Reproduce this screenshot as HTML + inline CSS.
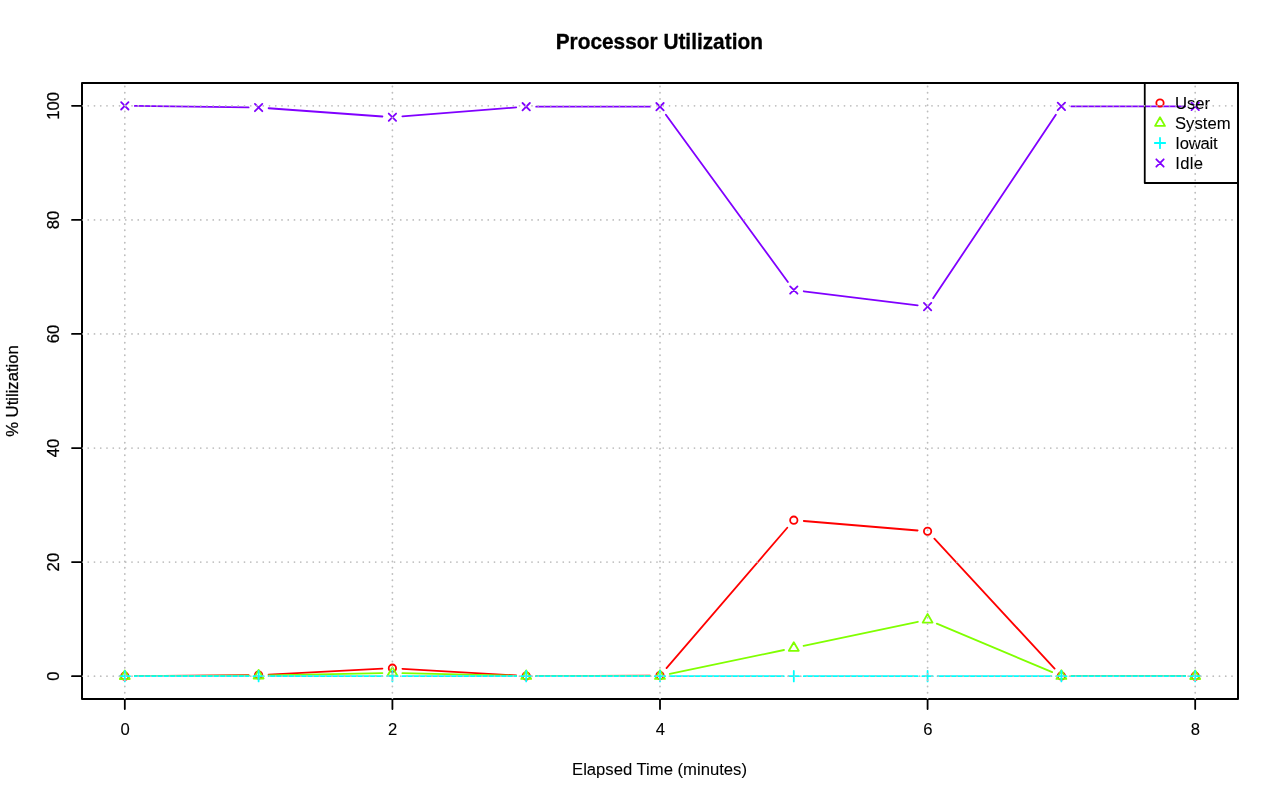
<!DOCTYPE html>
<html lang="en"><head><meta charset="utf-8"><title>Processor Utilization</title>
<style>
html,body{margin:0;padding:0;background:#fff;}
body{width:1280px;height:801px;overflow:hidden;}
svg{display:block;}
text{font-family:"Liberation Sans",Arial,Helvetica,sans-serif;font-size:16.67px;fill:#000;stroke:#000;stroke-width:0.08px;stroke-linejoin:round;}
.r{stroke-width:0.25px;}
.t{font-weight:bold;font-size:20.83px;stroke-width:0.3px;}
</style></head><body>
<svg width="1280" height="801" viewBox="0 0 1280 801">
<rect width="1280" height="801" fill="#fff"/>
<text class="t" transform="translate(659.3 49.05) scale(1 1.055)" text-anchor="middle">Processor Utilization</text>
<text x="659.5" y="775" text-anchor="middle">Elapsed Time (minutes)</text>
<text class="r" transform="translate(18 391) rotate(-90)" text-anchor="middle">% Utilization</text>
<g fill="none" stroke="#000" stroke-width="1.8" stroke-linecap="round">
<path d="M124.81 699H1195.19M124.81 699v10M392.41 699v10M660 699v10M927.59 699v10M1195.19 699v10M82 676.19V105.81M82 676.19h-10M82 562.11h-10M82 448.04h-10M82 333.96h-10M82 219.89h-10M82 105.81h-10"/>
</g>
<text x="125.11" y="735" text-anchor="middle">0</text>
<text x="392.71" y="735" text-anchor="middle">2</text>
<text x="660.3" y="735" text-anchor="middle">4</text>
<text x="927.89" y="735" text-anchor="middle">6</text>
<text x="1195.49" y="735" text-anchor="middle">8</text>
<text class="r" transform="translate(58.6 676.19) rotate(-90)" text-anchor="middle">0</text>
<text class="r" transform="translate(58.6 562.11) rotate(-90)" text-anchor="middle">20</text>
<text class="r" transform="translate(58.6 448.04) rotate(-90)" text-anchor="middle">40</text>
<text class="r" transform="translate(58.6 333.96) rotate(-90)" text-anchor="middle">60</text>
<text class="r" transform="translate(58.6 219.89) rotate(-90)" text-anchor="middle">80</text>
<text class="r" transform="translate(58.6 105.81) rotate(-90)" text-anchor="middle">100</text>
<rect x="82" y="83" width="1156" height="616" fill="none" stroke="#000" stroke-width="2.0" stroke-linejoin="round"/>
<clipPath id="c"><rect x="82" y="83" width="1156" height="616"/></clipPath>
<g clip-path="url(#c)">
<path d="M134.81 676.1L248.61 675.13M268.6 674.53L382.42 668.71M402.39 668.79L516.22 675.48M536.2 676.04L650 675.65M666.52 668.04L787.27 527.77M803.76 521.02L917.63 530.48M934.38 538.65L1054.6 668.67M1071.39 676.03L1185.19 676.17" fill="none" stroke="#ff0000" stroke-width="1.8" stroke-linecap="round"/>
<circle cx="124.81" cy="676.19" r="3.68" fill="none" stroke="#ff0000" stroke-width="1.8"/>
<circle cx="258.61" cy="675.04" r="3.68" fill="none" stroke="#ff0000" stroke-width="1.8"/>
<circle cx="392.41" cy="668.2" r="3.68" fill="none" stroke="#ff0000" stroke-width="1.8"/>
<circle cx="526.2" cy="676.07" r="3.68" fill="none" stroke="#ff0000" stroke-width="1.8"/>
<circle cx="660" cy="675.61" r="3.68" fill="none" stroke="#ff0000" stroke-width="1.8"/>
<circle cx="793.8" cy="520.19" r="3.68" fill="none" stroke="#ff0000" stroke-width="1.8"/>
<circle cx="927.59" cy="531.31" r="3.68" fill="none" stroke="#ff0000" stroke-width="1.8"/>
<circle cx="1061.39" cy="676.01" r="3.68" fill="none" stroke="#ff0000" stroke-width="1.8"/>
<circle cx="1195.19" cy="676.19" r="3.68" fill="none" stroke="#ff0000" stroke-width="1.8"/>
<path d="M134.81 676.14L248.61 675.66M268.61 675.41L382.41 673.08M402.4 673.12L516.21 675.83M536.2 676.07L650 676.02M669.79 673.96L784.01 650M803.58 645.89L917.81 621.78M936.81 623.6L1052.17 672.14M1071.39 676.03L1185.19 676.17" fill="none" stroke="#80ff00" stroke-width="1.8" stroke-linecap="round"/>
<path d="M124.81 670.46L129.77 679.05L119.86 679.05Z" fill="none" stroke="#80ff00" stroke-width="1.8" stroke-linejoin="round"/>
<path d="M258.61 669.89L263.57 678.48L253.65 678.48Z" fill="none" stroke="#80ff00" stroke-width="1.8" stroke-linejoin="round"/>
<path d="M392.41 667.15L397.36 675.74L387.45 675.74Z" fill="none" stroke="#80ff00" stroke-width="1.8" stroke-linejoin="round"/>
<path d="M526.2 670.35L531.16 678.93L521.25 678.93Z" fill="none" stroke="#80ff00" stroke-width="1.8" stroke-linejoin="round"/>
<path d="M660 670.29L664.96 678.88L655.04 678.88Z" fill="none" stroke="#80ff00" stroke-width="1.8" stroke-linejoin="round"/>
<path d="M793.8 642.23L798.75 650.81L788.84 650.81Z" fill="none" stroke="#80ff00" stroke-width="1.8" stroke-linejoin="round"/>
<path d="M927.59 614L932.55 622.58L922.64 622.58Z" fill="none" stroke="#80ff00" stroke-width="1.8" stroke-linejoin="round"/>
<path d="M1061.39 670.29L1066.35 678.88L1056.43 678.88Z" fill="none" stroke="#80ff00" stroke-width="1.8" stroke-linejoin="round"/>
<path d="M1195.19 670.46L1200.14 679.05L1190.23 679.05Z" fill="none" stroke="#80ff00" stroke-width="1.8" stroke-linejoin="round"/>
<path d="M134.81 676.19L248.61 676.19M268.61 676.19L382.41 676.19M402.41 676.19L516.2 676.19M536.2 676.19L650 676.19M670 676.19L783.8 676.19M803.8 676.19L917.59 676.19M937.59 676.19L1051.39 676.19M1071.39 676.19L1185.19 676.19" fill="none" stroke="#00ffff" stroke-width="1.8" stroke-linecap="round"/>
<path d="M119.61 676.19H130.02M124.81 670.98V681.39" fill="none" stroke="#00ffff" stroke-width="1.8" stroke-linecap="round"/>
<path d="M253.41 676.19H263.82M258.61 670.98V681.39" fill="none" stroke="#00ffff" stroke-width="1.8" stroke-linecap="round"/>
<path d="M387.2 676.19H397.61M392.41 670.98V681.39" fill="none" stroke="#00ffff" stroke-width="1.8" stroke-linecap="round"/>
<path d="M521 676.19H531.41M526.2 670.98V681.39" fill="none" stroke="#00ffff" stroke-width="1.8" stroke-linecap="round"/>
<path d="M654.8 676.19H665.2M660 670.98V681.39" fill="none" stroke="#00ffff" stroke-width="1.8" stroke-linecap="round"/>
<path d="M788.59 676.19H799M793.8 670.98V681.39" fill="none" stroke="#00ffff" stroke-width="1.8" stroke-linecap="round"/>
<path d="M922.39 676.19H932.8M927.59 670.98V681.39" fill="none" stroke="#00ffff" stroke-width="1.8" stroke-linecap="round"/>
<path d="M1056.18 676.19H1066.59M1061.39 670.98V681.39" fill="none" stroke="#00ffff" stroke-width="1.8" stroke-linecap="round"/>
<path d="M1189.98 676.19H1200.39M1195.19 670.98V681.39" fill="none" stroke="#00ffff" stroke-width="1.8" stroke-linecap="round"/>
<path d="M134.81 105.94L248.61 107.4M268.58 108.25L382.43 116.5M402.38 116.44L516.23 107.46M536.2 106.67L650 106.67M665.89 114.75L787.9 281.97M803.72 291.27L917.67 305.36M933.15 298.27L1055.83 114.7M1071.39 106.39L1185.19 106.39" fill="none" stroke="#8000ff" stroke-width="1.8" stroke-linecap="round"/>
<path d="M121.13 102.13L128.49 109.49M121.13 109.49L128.49 102.13" fill="none" stroke="#8000ff" stroke-width="1.8" stroke-linecap="round"/>
<path d="M254.93 103.85L262.29 111.21M254.93 111.21L262.29 103.85" fill="none" stroke="#8000ff" stroke-width="1.8" stroke-linecap="round"/>
<path d="M388.73 113.54L396.09 120.9M388.73 120.9L396.09 113.54" fill="none" stroke="#8000ff" stroke-width="1.8" stroke-linecap="round"/>
<path d="M522.52 102.99L529.88 110.35M522.52 110.35L529.88 102.99" fill="none" stroke="#8000ff" stroke-width="1.8" stroke-linecap="round"/>
<path d="M656.32 102.99L663.68 110.35M656.32 110.35L663.68 102.99" fill="none" stroke="#8000ff" stroke-width="1.8" stroke-linecap="round"/>
<path d="M790.12 286.36L797.48 293.72M790.12 293.72L797.48 286.36" fill="none" stroke="#8000ff" stroke-width="1.8" stroke-linecap="round"/>
<path d="M923.91 302.91L931.27 310.27M923.91 310.27L931.27 302.91" fill="none" stroke="#8000ff" stroke-width="1.8" stroke-linecap="round"/>
<path d="M1057.71 102.71L1065.07 110.07M1057.71 110.07L1065.07 102.71" fill="none" stroke="#8000ff" stroke-width="1.8" stroke-linecap="round"/>
<path d="M1191.51 102.71L1198.87 110.07M1191.51 110.07L1198.87 102.71" fill="none" stroke="#8000ff" stroke-width="1.8" stroke-linecap="round"/>
</g>
<rect x="1144.75" y="83" width="93.25" height="100" fill="none" stroke="#000" stroke-width="1.8" stroke-linejoin="round"/>
<circle cx="1160" cy="103" r="3.68" fill="none" stroke="#ff0000" stroke-width="1.8"/>
<text x="1175" y="108.8">User</text>
<path d="M1160 117.28L1164.96 125.86L1155.04 125.86Z" fill="none" stroke="#80ff00" stroke-width="1.8" stroke-linejoin="round"/>
<text x="1175" y="128.8">System</text>
<path d="M1154.8 143H1165.2M1160 137.8V148.2" fill="none" stroke="#00ffff" stroke-width="1.8" stroke-linecap="round"/>
<text x="1175.3" y="148.8" textLength="42.3" lengthAdjust="spacing">Iowait</text>
<path d="M1156.32 159.32L1163.68 166.68M1156.32 166.68L1163.68 159.32" fill="none" stroke="#8000ff" stroke-width="1.8" stroke-linecap="round"/>
<text x="1175.3" y="168.8" textLength="27.6" lengthAdjust="spacing">Idle</text>
<g clip-path="url(#c)" fill="none" stroke="#bebebe" stroke-width="1.8" stroke-linecap="round" stroke-dasharray="0 6.25">
<path d="M124.81 699V78M392.41 699V78M660 699V78M927.59 699V78M1195.19 699V78"/>
<path d="M82 676.19H1235M82 562.11H1235M82 448.04H1235M82 333.96H1235M82 219.89H1235M82 105.81H1235"/>
</g>
</svg>
</body></html>
